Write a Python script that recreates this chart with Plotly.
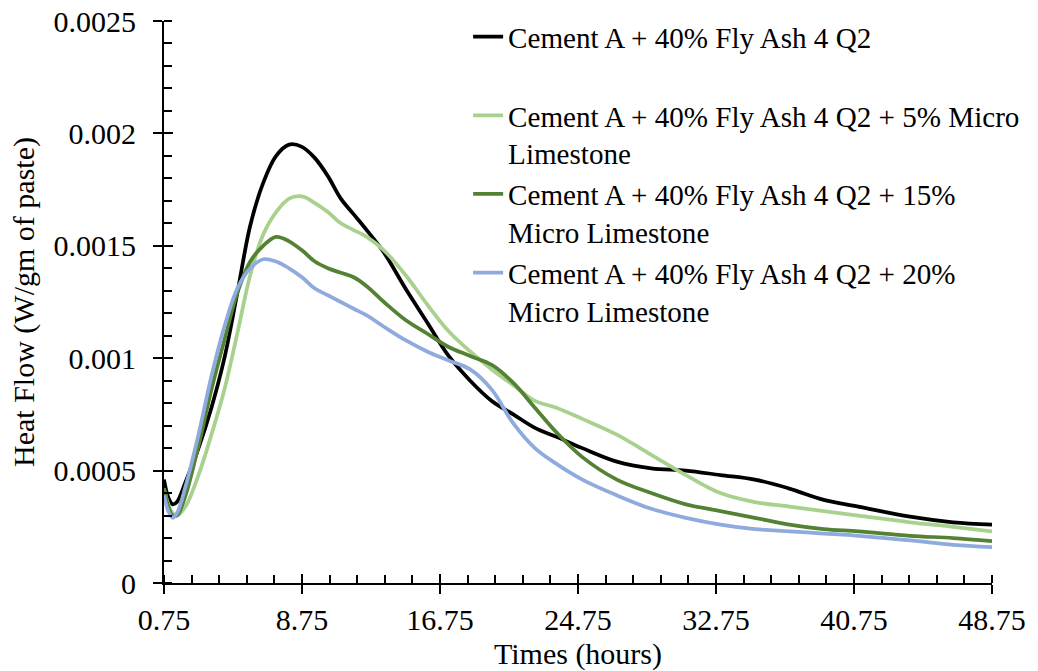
import plotly.graph_objects as go

# Time (hours)
time_h = [0.75, 1.0, 1.25, 1.5, 2.0, 2.75, 3.5, 4.25, 5.0, 5.75, 6.5, 7.25, 8.0, 8.75, 9.5,
          10.25, 11.0, 11.75, 12.5, 13.5, 14.75, 16.0, 17.25, 18.5, 19.75, 21.0, 22.25, 23.5,
          25.0, 27.0, 29.0, 31.0, 33.0, 35.0, 37.0, 39.0, 41.0, 44.0, 46.5, 48.75]

fa40 = [0.00046, 0.00038, 0.00035, 0.00036, 0.00045, 0.00060, 0.00078, 0.00100, 0.00129, 0.00159,
        0.00178, 0.00190, 0.00195, 0.00194, 0.00189, 0.00181, 0.00171, 0.00164, 0.00157, 0.00147,
        0.00131, 0.00116, 0.00101, 0.00090, 0.00081, 0.00075, 0.00069, 0.00065, 0.00060, 0.00054,
        0.00051, 0.00050, 0.00048, 0.00046, 0.00042, 0.00037, 0.00034, 0.000295, 0.00027, 0.00026]

ml5 = [0.00042, 0.00035, 0.00031, 0.00030, 0.00034, 0.00048, 0.00066, 0.00086, 0.00111, 0.00137,
       0.00155, 0.00165, 0.00171, 0.00172, 0.00169, 0.00165, 0.00160, 0.00157, 0.00154, 0.00148,
       0.00137, 0.00124, 0.00112, 0.00103, 0.00095, 0.00088, 0.00081, 0.00078, 0.00073, 0.00066,
       0.00057, 0.00048, 0.00040, 0.00036, 0.00034, 0.00032, 0.00030, 0.00027, 0.00025, 0.00023]

ml15 = [0.00042, 0.00034, 0.00030, 0.00030, 0.00039, 0.00061, 0.00086, 0.00108, 0.00129, 0.00143,
        0.00150, 0.00154, 0.00152, 0.00148, 0.00143, 0.00140, 0.00138, 0.00136, 0.00132, 0.00125,
        0.00117, 0.00111, 0.00105, 0.00101, 0.00097, 0.00089, 0.00078, 0.00067, 0.00056, 0.00046,
        0.00040, 0.00035, 0.00032, 0.00029, 0.00026, 0.00024, 0.00023, 0.00021, 0.00020, 0.000186]

ml20 = [0.00039, 0.00032, 0.00029, 0.00031, 0.00043, 0.00066, 0.00092, 0.00114, 0.00131, 0.00140,
        0.00144, 0.00143, 0.00140, 0.00136, 0.00131, 0.00128, 0.00125, 0.00122, 0.00119, 0.00114,
        0.00108, 0.00103, 0.00099, 0.00095, 0.00086, 0.00071, 0.00060, 0.00053, 0.00046, 0.00039,
        0.00033, 0.00029, 0.00026, 0.00024, 0.00023, 0.00022, 0.00021, 0.00019, 0.00017, 0.00016]

names = [
    "Cement A + 40% Fly Ash 4 Q2<br> ",
    "Cement A + 40% Fly Ash 4 Q2 + 5% Micro<br>Limestone",
    "Cement A + 40% Fly Ash 4 Q2 + 15%<br>Micro Limestone",
    "Cement A + 40% Fly Ash 4 Q2 + 20%<br>Micro Limestone",
]
colors = ["#000000", "#A9D18E", "#548235", "#8FAADC"]
series = [fa40, ml5, ml15, ml20]

x_ticks = [0.75, 8.75, 16.75, 24.75, 32.75, 40.75, 48.75]
y_ticks = [0, 0.0005, 0.001, 0.0015, 0.002, 0.0025]
y_ticklabels = ["0", "0.0005", "0.001", "0.0015", "0.002", "0.0025"]

FONT = "Liberation Serif, Times New Roman, DejaVu Serif, serif"

fig = go.Figure()
for name, col, ys in zip(names, colors, series):
    fig.add_trace(go.Scatter(x=time_h, y=ys, mode="lines", name=name,
                             line=dict(color=col, width=3.75, shape="spline", smoothing=1.0)))

# dummy trace to activate overlay axes (for crossing major ticks)
fig.add_trace(go.Scatter(x=[None], y=[None], xaxis="x2", yaxis="y2", showlegend=False,
                         hoverinfo="skip"))

axis_common = dict(showgrid=False, zeroline=False, color="black", automargin=False)

fig.update_layout(
    width=1038, height=671,
    margin=dict(l=164, r=46, t=20, b=88),
    paper_bgcolor="white", plot_bgcolor="white",
    font=dict(family=FONT, size=30, color="black"),
    showlegend=True,
    legend=dict(x=1.04, y=1.0156, xanchor="right", yanchor="top",
                font=dict(family=FONT, size=29.1, color="black"),
                valign="top", bgcolor="rgba(0,0,0,0)", tracegroupgap=0),
    xaxis=dict(range=[0.75, 48.75], tickvals=x_ticks, ticktext=[str(v) for v in x_ticks],
               showline=True, linecolor="black", linewidth=2,
               ticks="outside", ticklen=9, tickwidth=2, tickcolor="black",
               ticklabelstandoff=0,
               minor=dict(ticks="inside", ticklen=8, tickwidth=2, tickcolor="black",
                          tick0=0.75, dtick=1.6),
               title=dict(text="Times (hours)", font=dict(family=FONT, size=30), standoff=8),
               **axis_common),
    yaxis=dict(range=[0, 0.0025], tickvals=y_ticks, ticktext=y_ticklabels,
               showline=True, linecolor="black", linewidth=2,
               ticks="outside", ticklen=9, tickwidth=2, tickcolor="black",
               ticklabelstandoff=11,
               minor=dict(ticks="inside", ticklen=8, tickwidth=2, tickcolor="black",
                          tick0=0, dtick=0.0001),
               title=dict(text="Heat Flow (W/gm of paste)", font=dict(family=FONT, size=30),
                          standoff=10),
               **axis_common),
    xaxis2=dict(range=[0.75, 48.75], overlaying="x", side="bottom", tickvals=x_ticks,
                showticklabels=False, showline=False, ticks="inside", ticklen=9,
                tickwidth=2, tickcolor="black", **axis_common),
    yaxis2=dict(range=[0, 0.0025], overlaying="y", side="left", tickvals=y_ticks,
                showticklabels=False, showline=False, ticks="inside", ticklen=9,
                tickwidth=2, tickcolor="black", **axis_common),
)

fig.write_html("out.html", config={"displayModeBar": False},
               post_script="document.body.style.margin='0';document.body.style.padding='0';")
